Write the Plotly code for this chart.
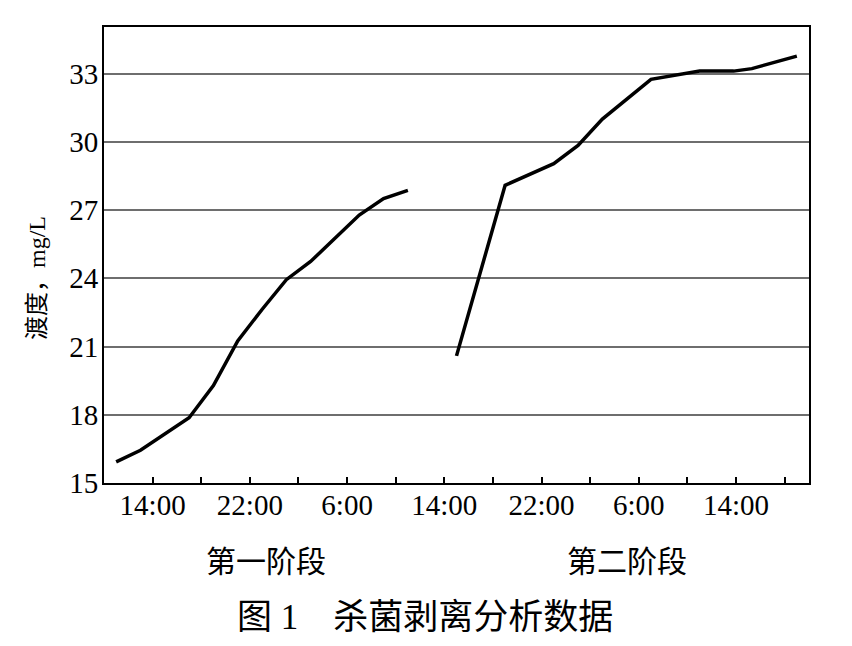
import plotly.graph_objects as go

# Elapsed hours from the left edge of the axis (10:00 of day 1)
stage1_hours = [1, 3, 7, 9, 11, 13, 15, 17, 21, 23, 25]
stage1_values = [15.93, 16.44, 17.87, 19.28, 21.25, 22.63, 23.94, 24.74, 26.78, 27.51, 27.87]

stage2_hours = [29, 33, 37, 39, 41, 45, 49, 51.8, 53.3, 57]
stage2_values = [20.59, 28.09, 29.04, 29.84, 31.0, 32.75, 33.11, 33.11, 33.22, 33.77]

x_tick_hours = [4, 8, 12, 16, 20, 24, 28, 32, 36, 40, 44, 48, 52, 56]
x_tick_labels = ["14:00", "", "22:00", "", "6:00", "", "14:00", "", "22:00", "", "6:00", "", "14:00", ""]
y_ticks = [15, 18, 21, 24, 27, 30, 33]

stage_labels = ["第一阶段", "第二阶段"]
y_title = "渡度，mg/L"
caption = "图 1　杀菌剥离分析数据"

serif = "Liberation Serif, Noto Sans CJK SC, serif"

W, H = 852, 646
ML, MR, MT, MB = 104, 43, 27, 163

fig = go.Figure()
for xs, ys in [(stage1_hours, stage1_values), (stage2_hours, stage2_values)]:
    fig.add_trace(go.Scatter(x=xs, y=ys, mode="lines",
                             line=dict(color="black", width=3.5),
                             showlegend=False, hoverinfo="skip"))

fig.update_layout(
    width=W, height=H,
    margin=dict(l=ML, r=MR, t=MT, b=MB),
    paper_bgcolor="white", plot_bgcolor="white",
    font=dict(family=serif, color="black"),
)

fig.update_xaxes(
    range=[0, 58], tickmode="array", tickvals=x_tick_hours, ticktext=x_tick_labels,
    ticks="inside", ticklen=6, tickwidth=1.5, tickcolor="black",
    showgrid=False, zeroline=False,
    showline=True, mirror=True, linecolor="black", linewidth=2,
    tickfont=dict(family=serif, size=29, color="black"),
    ticklabelstandoff=-5,
)
fig.update_yaxes(
    range=[15, 35.05], tickmode="array", tickvals=y_ticks,
    ticks="", showgrid=True, gridcolor="#6e6e6e", gridwidth=1.5,
    zeroline=False,
    showline=True, mirror=True, linecolor="black", linewidth=2,
    tickfont=dict(family=serif, size=29, color="black"),
    ticklabelstandoff=-2,
)


def px_to_paper(px, py):
    pw = W - ML - MR
    ph = H - MT - MB
    return (px - ML) / pw, 1 - (py - MT) / ph


ax, ay = px_to_paper(37, 278)
fig.add_annotation(text=y_title, x=ax, y=ay, xref="paper", yref="paper",
                   xanchor="center", yanchor="middle",
                   textangle=-90, showarrow=False,
                   font=dict(family=serif, size=24, color="black"))
for label, cx in zip(stage_labels, [266, 627]):
    px, py = px_to_paper(cx, 561)
    fig.add_annotation(text=label, x=px, y=py, xref="paper", yref="paper",
                       xanchor="center", yanchor="middle",
                       showarrow=False, font=dict(family=serif, size=30, color="black"))
px, py = px_to_paper(425, 617)
fig.add_annotation(text=caption, x=px, y=py, xref="paper", yref="paper",
                   xanchor="center", yanchor="middle",
                   showarrow=False, font=dict(family=serif, size=35, color="black"))

fig.write_html("out.html", config={"displayModeBar": False},
               post_script="document.body.style.margin='0px';")
